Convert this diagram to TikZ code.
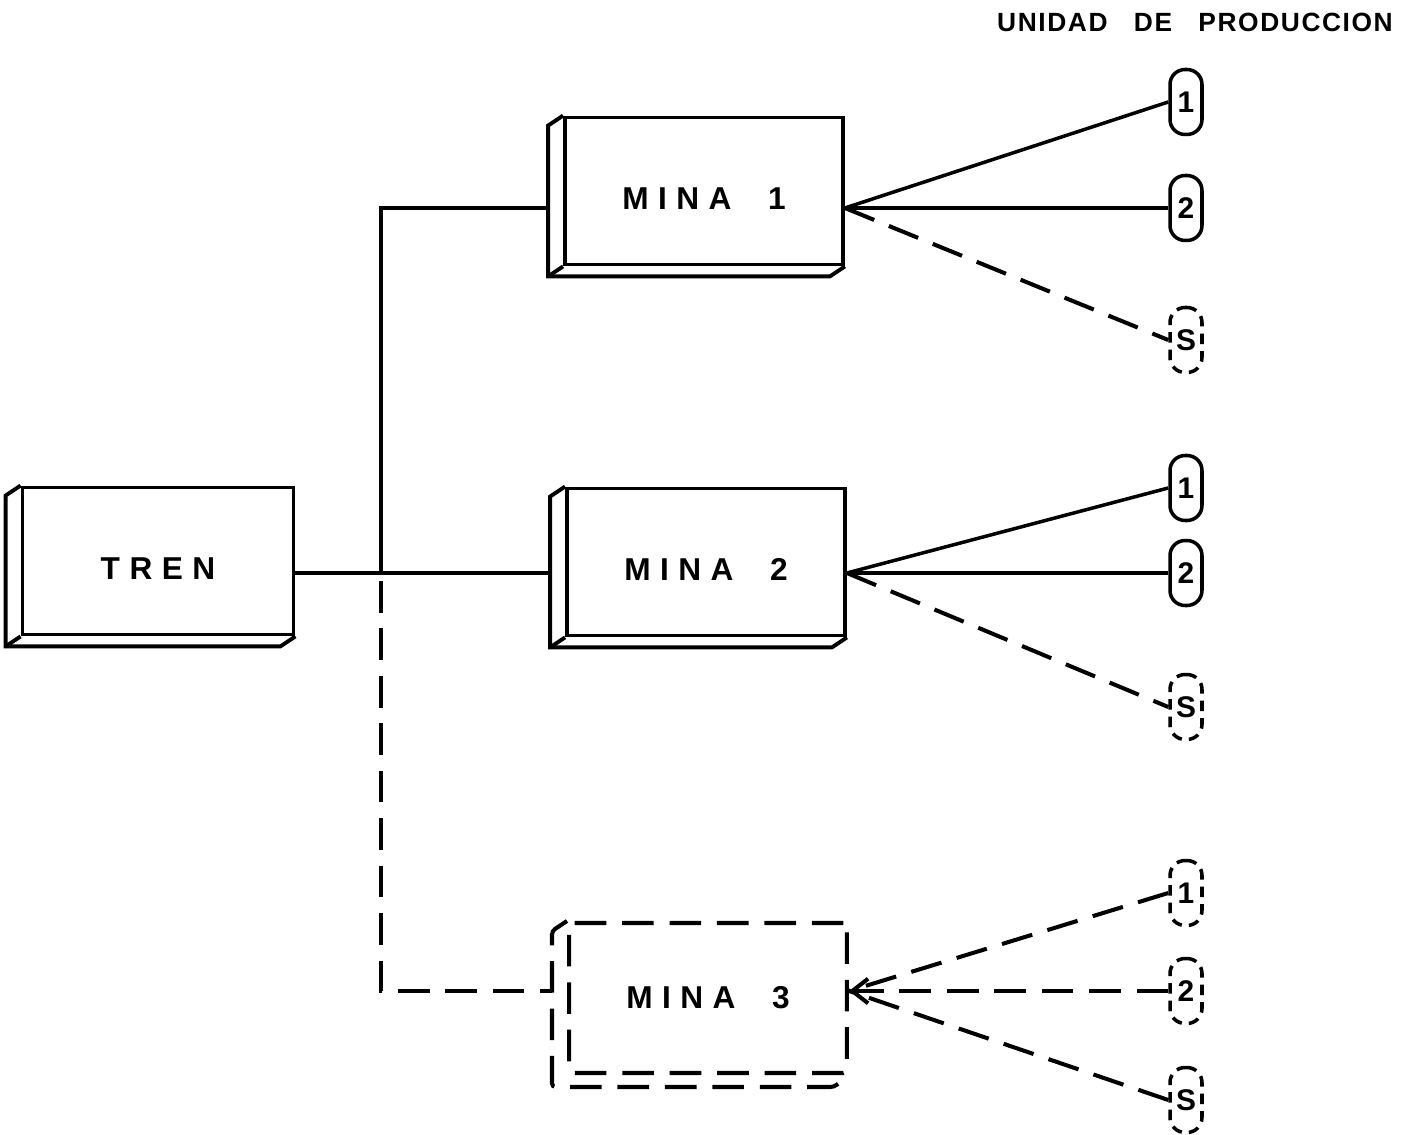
\documentclass[tikz,border=0pt]{standalone}
\usepackage{fontspec}
\setmainfont{Liberation Sans}
\newfontfamily\boxfont[LetterSpace=30]{Liberation Sans}
\newfontfamily\titlefont[LetterSpace=6]{Liberation Sans}
\usetikzlibrary{arrows.meta}

\begin{document}
\begin{tikzpicture}[x=0.02cm,y=-0.02cm,line width=2pt,
    mina/.style={draw,line width=2.2pt,minimum width=5.56cm,minimum height=2.94cm,
      text height=0.75cm,text depth=0pt,
      font=\boxfont\bfseries\fontsize{18}{20}\selectfont},
    unidad/.style={draw,rounded corners=0.3cm,minimum width=0.64cm,minimum height=1.3cm,
      inner sep=0pt,font=\boxfont\bfseries\fontsize{17}{20}\selectfont},
    futuro/.style={line width=2.3pt,dash pattern=on 18pt off 9pt},
    suplente/.style={dash pattern=on 6pt off 4pt}]
    \useasboundingbox (0,0) rectangle (1421,1135);

    \node[font=\titlefont\bfseries\fontsize{15}{17}\selectfont] (titulo) at (1195,22) {UNIDAD\quad DE\quad PRODUCCION};

    \node[mina,minimum width=5.42cm] (tren) at (158,561) {TREN};
    \node[mina] (mina1) at (704,191) {MINA\ \ 1};
    \node[mina] (mina2) at (706,562) {MINA\ \ 2};
    \node[mina,futuro,rounded corners=2pt,minimum height=3cm,text height=0.4cm] (mina3) at (708,998) {MINA\ \ 3};

    % depth of the blocks
    \foreach \n in {tren,mina1,mina2} {
      \coordinate (\n-back) at ([shift={(-15,10)}]\n.south west);
      \draw[line width=2.2pt] (\n.north west) -- ++(-15,10) -- (\n-back)
        -- ([shift={(-15,10)}]\n.south east) -- (\n.south east);
      \draw[line width=2.2pt] (\n.south west) -- (\n-back);
    }
    \coordinate (mina3-back) at ([shift={(-15,12)}]mina3.south west);
    \draw[futuro,rounded corners=2pt] (mina3.north west) -- ++(-15,10)
      -- (mina3-back) -- ([shift={(-15,12)}]mina3.south east) -- (mina3.south east);

    % production units
    \node[unidad] (u11) at (1186,102) {1};
    \node[unidad] (u12) at (1186,208) {2};
    \node[unidad,suplente] (u1s) at (1186,340) {S};
    \node[unidad] (u21) at (1186,488) {1};
    \node[unidad] (u22) at (1186,573) {2};
    \node[unidad,suplente] (u2s) at (1186,707) {S};
    \node[unidad,suplente] (u31) at (1186,893) {1};
    \node[unidad,suplente] (u32) at (1186,991) {2};
    \node[unidad,suplente] (u3s) at (1186,1100) {S};

    % train line to the mines
    \coordinate (ramal) at (381,573);
    \draw (tren.east |- ramal) -- (mina2-back |- ramal);
    \draw (ramal) |- (mina1-back |- u12.west);
    \draw[futuro] ([yshift=-0.16cm]ramal) |- (mina3-back |- u32.west);

    % mines to units
    \draw (mina1.east |- u12.west) -- (u11.west);
    \draw (mina1.east |- u12.west) -- (u12.west);
    \draw[futuro] (mina1.east |- u12.west) -- (u1s.west);
    \draw (mina2.east |- u22.west) -- (u21.west);
    \draw (mina2.east |- u22.west) -- (u22.west);
    \draw[futuro] (mina2.east |- u22.west) -- (u2s.west);
    \draw[futuro] (u31.west) -- (mina3.east |- u32.west);
    \draw[futuro,-{Straight Barb[length=9pt,width=14pt]}] (u32.west) -- (mina3.east |- u32.west);
    \draw[futuro] (u3s.west) -- (mina3.east |- u32.west);
  \end{tikzpicture}
\end{document}
